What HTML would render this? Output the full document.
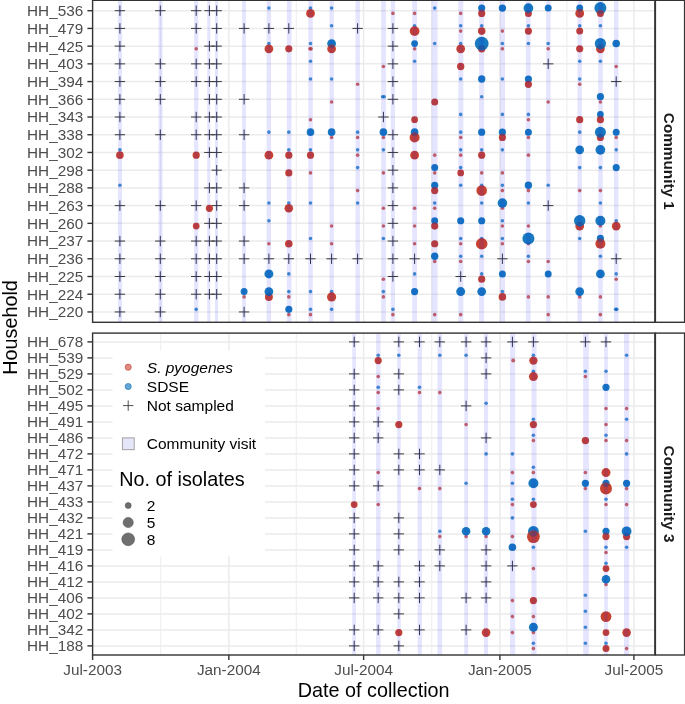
<!DOCTYPE html>
<html><head><meta charset="utf-8"><title>Household sampling</title>
<style>
html,body{margin:0;padding:0;background:#fff;}
body{width:685px;height:704px;overflow:hidden;}
svg{display:block;will-change:transform;}
text{font-family:"Liberation Sans",sans-serif;}
.ax{font-size:15.3px;fill:#4D4D4D;}
.lg{font-size:15.5px;fill:#000;}
.tt{font-size:19.8px;fill:#000;}
.st{font-size:15.3px;font-weight:bold;fill:#1A1A1A;}
</style></head>
<body>
<svg width="685" height="704" viewBox="0 0 685 704">
<rect width="685" height="704" fill="#fff"/>
<rect x="92.6" y="0.3" width="562.3" height="322" fill="#fff"/>
<line x1="160.73" y1="0.3" x2="160.73" y2="322.3" stroke="#EBEBEB" stroke-width="0.9"/>
<line x1="296.24" y1="0.3" x2="296.24" y2="322.3" stroke="#EBEBEB" stroke-width="0.9"/>
<line x1="431.75" y1="0.3" x2="431.75" y2="322.3" stroke="#EBEBEB" stroke-width="0.9"/>
<line x1="566.89" y1="0.3" x2="566.89" y2="322.3" stroke="#EBEBEB" stroke-width="0.9"/>
<line x1="228.85" y1="0.3" x2="228.85" y2="322.3" stroke="#EBEBEB" stroke-width="1.5"/>
<line x1="363.62" y1="0.3" x2="363.62" y2="322.3" stroke="#EBEBEB" stroke-width="1.5"/>
<line x1="499.88" y1="0.3" x2="499.88" y2="322.3" stroke="#EBEBEB" stroke-width="1.5"/>
<line x1="633.91" y1="0.3" x2="633.91" y2="322.3" stroke="#EBEBEB" stroke-width="1.5"/>
<line x1="92.6" y1="10.7" x2="654.9" y2="10.7" stroke="#EBEBEB" stroke-width="1.5"/>
<line x1="92.6" y1="28.42" x2="654.9" y2="28.42" stroke="#EBEBEB" stroke-width="1.5"/>
<line x1="92.6" y1="46.14" x2="654.9" y2="46.14" stroke="#EBEBEB" stroke-width="1.5"/>
<line x1="92.6" y1="63.86" x2="654.9" y2="63.86" stroke="#EBEBEB" stroke-width="1.5"/>
<line x1="92.6" y1="81.58" x2="654.9" y2="81.58" stroke="#EBEBEB" stroke-width="1.5"/>
<line x1="92.6" y1="99.3" x2="654.9" y2="99.3" stroke="#EBEBEB" stroke-width="1.5"/>
<line x1="92.6" y1="117.02" x2="654.9" y2="117.02" stroke="#EBEBEB" stroke-width="1.5"/>
<line x1="92.6" y1="134.74" x2="654.9" y2="134.74" stroke="#EBEBEB" stroke-width="1.5"/>
<line x1="92.6" y1="152.46" x2="654.9" y2="152.46" stroke="#EBEBEB" stroke-width="1.5"/>
<line x1="92.6" y1="170.18" x2="654.9" y2="170.18" stroke="#EBEBEB" stroke-width="1.5"/>
<line x1="92.6" y1="187.9" x2="654.9" y2="187.9" stroke="#EBEBEB" stroke-width="1.5"/>
<line x1="92.6" y1="205.62" x2="654.9" y2="205.62" stroke="#EBEBEB" stroke-width="1.5"/>
<line x1="92.6" y1="223.34" x2="654.9" y2="223.34" stroke="#EBEBEB" stroke-width="1.5"/>
<line x1="92.6" y1="241.06" x2="654.9" y2="241.06" stroke="#EBEBEB" stroke-width="1.5"/>
<line x1="92.6" y1="258.78" x2="654.9" y2="258.78" stroke="#EBEBEB" stroke-width="1.5"/>
<line x1="92.6" y1="276.5" x2="654.9" y2="276.5" stroke="#EBEBEB" stroke-width="1.5"/>
<line x1="92.6" y1="294.22" x2="654.9" y2="294.22" stroke="#EBEBEB" stroke-width="1.5"/>
<line x1="92.6" y1="311.94" x2="654.9" y2="311.94" stroke="#EBEBEB" stroke-width="1.5"/>
<path d="M114.7 10.7h10.4M119.9 5.5v10.4M114.7 28.42h10.4M119.9 23.22v10.4M114.7 46.14h10.4M119.9 40.94v10.4M114.7 63.86h10.4M119.9 58.66v10.4M114.7 81.58h10.4M119.9 76.38v10.4M114.7 99.3h10.4M119.9 94.1v10.4M114.7 117.02h10.4M119.9 111.82v10.4M114.7 134.74h10.4M119.9 129.54v10.4M114.7 205.62h10.4M119.9 200.42v10.4M114.7 241.06h10.4M119.9 235.86v10.4M114.7 258.78h10.4M119.9 253.58v10.4M114.7 276.5h10.4M119.9 271.3v10.4M114.7 294.22h10.4M119.9 289.02v10.4M114.7 311.94h10.4M119.9 306.74v10.4M155.1 10.7h10.4M160.3 5.5v10.4M155.1 63.86h10.4M160.3 58.66v10.4M155.1 81.58h10.4M160.3 76.38v10.4M155.1 99.3h10.4M160.3 94.1v10.4M155.1 134.74h10.4M160.3 129.54v10.4M155.1 205.62h10.4M160.3 200.42v10.4M155.1 241.06h10.4M160.3 235.86v10.4M155.1 258.78h10.4M160.3 253.58v10.4M155.1 276.5h10.4M160.3 271.3v10.4M155.1 294.22h10.4M160.3 289.02v10.4M155.1 311.94h10.4M160.3 306.74v10.4M191 10.7h10.4M196.2 5.5v10.4M191 28.42h10.4M196.2 23.22v10.4M191 63.86h10.4M196.2 58.66v10.4M191 81.58h10.4M196.2 76.38v10.4M191 117.02h10.4M196.2 111.82v10.4M191 134.74h10.4M196.2 129.54v10.4M191 205.62h10.4M196.2 200.42v10.4M191 241.06h10.4M196.2 235.86v10.4M191 258.78h10.4M196.2 253.58v10.4M191 276.5h10.4M196.2 271.3v10.4M191 294.22h10.4M196.2 289.02v10.4M204.2 10.7h10.4M209.4 5.5v10.4M204.2 46.14h10.4M209.4 40.94v10.4M204.2 63.86h10.4M209.4 58.66v10.4M204.2 81.58h10.4M209.4 76.38v10.4M204.2 99.3h10.4M209.4 94.1v10.4M204.2 117.02h10.4M209.4 111.82v10.4M204.2 134.74h10.4M209.4 129.54v10.4M204.2 152.46h10.4M209.4 147.26v10.4M204.2 187.9h10.4M209.4 182.7v10.4M204.2 223.34h10.4M209.4 218.14v10.4M204.2 241.06h10.4M209.4 235.86v10.4M204.2 258.78h10.4M209.4 253.58v10.4M204.2 276.5h10.4M209.4 271.3v10.4M204.2 294.22h10.4M209.4 289.02v10.4M211.5 10.7h10.4M216.7 5.5v10.4M211.5 28.42h10.4M216.7 23.22v10.4M211.5 46.14h10.4M216.7 40.94v10.4M211.5 63.86h10.4M216.7 58.66v10.4M211.5 81.58h10.4M216.7 76.38v10.4M211.5 99.3h10.4M216.7 94.1v10.4M211.5 117.02h10.4M216.7 111.82v10.4M211.5 134.74h10.4M216.7 129.54v10.4M211.5 152.46h10.4M216.7 147.26v10.4M211.5 170.18h10.4M216.7 164.98v10.4M211.5 187.9h10.4M216.7 182.7v10.4M211.5 205.62h10.4M216.7 200.42v10.4M211.5 223.34h10.4M216.7 218.14v10.4M211.5 241.06h10.4M216.7 235.86v10.4M211.5 258.78h10.4M216.7 253.58v10.4M211.5 276.5h10.4M216.7 271.3v10.4M211.5 294.22h10.4M216.7 289.02v10.4M238.9 28.42h10.4M244.1 23.22v10.4M238.9 99.3h10.4M244.1 94.1v10.4M238.9 134.74h10.4M244.1 129.54v10.4M238.9 187.9h10.4M244.1 182.7v10.4M238.9 205.62h10.4M244.1 200.42v10.4M238.9 241.06h10.4M244.1 235.86v10.4M238.9 258.78h10.4M244.1 253.58v10.4M238.9 311.94h10.4M244.1 306.74v10.4M263.7 28.42h10.4M268.9 23.22v10.4M263.7 258.78h10.4M268.9 253.58v10.4M283.6 28.42h10.4M288.8 23.22v10.4M283.6 258.78h10.4M288.8 253.58v10.4M305.3 258.78h10.4M310.5 253.58v10.4M326.4 258.78h10.4M331.6 253.58v10.4M352.4 28.42h10.4M357.6 23.22v10.4M352.4 258.78h10.4M357.6 253.58v10.4M378.2 117.02h10.4M383.4 111.82v10.4M387.7 28.42h10.4M392.9 23.22v10.4M387.7 46.14h10.4M392.9 40.94v10.4M387.7 63.86h10.4M392.9 58.66v10.4M387.7 81.58h10.4M392.9 76.38v10.4M387.7 99.3h10.4M392.9 94.1v10.4M387.7 134.74h10.4M392.9 129.54v10.4M387.7 152.46h10.4M392.9 147.26v10.4M387.7 170.18h10.4M392.9 164.98v10.4M387.7 187.9h10.4M392.9 182.7v10.4M387.7 205.62h10.4M392.9 200.42v10.4M387.7 223.34h10.4M392.9 218.14v10.4M387.7 241.06h10.4M392.9 235.86v10.4M387.7 258.78h10.4M392.9 253.58v10.4M387.7 276.5h10.4M392.9 271.3v10.4M409.4 258.78h10.4M414.6 253.58v10.4M455.5 276.5h10.4M460.7 271.3v10.4M497.2 258.78h10.4M502.4 253.58v10.4M543 63.86h10.4M548.2 58.66v10.4M543 205.62h10.4M548.2 200.42v10.4M611 81.58h10.4M616.2 76.38v10.4M611 258.78h10.4M616.2 253.58v10.4" stroke="#3A3A3A" stroke-width="1.0" fill="none"/>
<circle cx="119.9" cy="149.86" r="1.8" fill="#006BB8" fill-opacity="0.72"/>
<circle cx="119.9" cy="155.16" r="3.8" fill="#C22E1C" fill-opacity="0.9"/>
<circle cx="119.9" cy="185.3" r="1.8" fill="#006BB8" fill-opacity="0.72"/>
<circle cx="196.2" cy="48.84" r="1.8" fill="#C22E1C" fill-opacity="0.72"/>
<circle cx="196.2" cy="155.16" r="3.6" fill="#C22E1C" fill-opacity="0.9"/>
<circle cx="196.2" cy="226.04" r="3.4" fill="#C22E1C" fill-opacity="0.9"/>
<circle cx="196.2" cy="309.34" r="1.8" fill="#006BB8" fill-opacity="0.72"/>
<circle cx="209.4" cy="208.32" r="3.6" fill="#C22E1C" fill-opacity="0.9"/>
<circle cx="244.1" cy="296.92" r="1.8" fill="#C22E1C" fill-opacity="0.72"/>
<circle cx="244.1" cy="291.62" r="3.5" fill="#006BB8" fill-opacity="0.9"/>
<circle cx="268.9" cy="8.1" r="1.8" fill="#006BB8" fill-opacity="0.72"/>
<circle cx="268.9" cy="43.54" r="1.8" fill="#006BB8" fill-opacity="0.72"/>
<circle cx="268.9" cy="48.84" r="4.4" fill="#C22E1C" fill-opacity="0.9"/>
<circle cx="268.9" cy="132.14" r="1.8" fill="#006BB8" fill-opacity="0.72"/>
<circle cx="268.9" cy="155.16" r="4.4" fill="#C22E1C" fill-opacity="0.9"/>
<circle cx="268.9" cy="203.02" r="1.8" fill="#006BB8" fill-opacity="0.72"/>
<circle cx="268.9" cy="220.74" r="1.8" fill="#006BB8" fill-opacity="0.72"/>
<circle cx="268.9" cy="243.76" r="1.8" fill="#C22E1C" fill-opacity="0.72"/>
<circle cx="268.9" cy="273.9" r="4.5" fill="#006BB8" fill-opacity="0.9"/>
<circle cx="268.9" cy="296.92" r="4" fill="#C22E1C" fill-opacity="0.9"/>
<circle cx="268.9" cy="291.62" r="4.4" fill="#006BB8" fill-opacity="0.9"/>
<clipPath id="k1"><circle cx="268.9" cy="291.62" r="4.4"/></clipPath>
<circle cx="268.9" cy="296.92" r="4" fill="#C22E1C" fill-opacity="0.1" clip-path="url(#k1)"/>
<circle cx="288.8" cy="48.84" r="3.6" fill="#C22E1C" fill-opacity="0.9"/>
<circle cx="288.8" cy="132.14" r="1.8" fill="#006BB8" fill-opacity="0.72"/>
<circle cx="288.8" cy="149.86" r="1.8" fill="#006BB8" fill-opacity="0.72"/>
<circle cx="288.8" cy="155.16" r="3.6" fill="#C22E1C" fill-opacity="0.9"/>
<circle cx="288.8" cy="172.88" r="3.6" fill="#C22E1C" fill-opacity="0.9"/>
<circle cx="288.8" cy="203.02" r="1.8" fill="#006BB8" fill-opacity="0.72"/>
<circle cx="288.8" cy="208.32" r="4.3" fill="#C22E1C" fill-opacity="0.9"/>
<circle cx="288.8" cy="243.76" r="3.8" fill="#C22E1C" fill-opacity="0.9"/>
<circle cx="288.8" cy="273.9" r="1.8" fill="#006BB8" fill-opacity="0.72"/>
<circle cx="288.8" cy="291.62" r="1.8" fill="#006BB8" fill-opacity="0.72"/>
<circle cx="288.8" cy="296.92" r="1.8" fill="#C22E1C" fill-opacity="0.72"/>
<circle cx="288.8" cy="314.64" r="1.8" fill="#C22E1C" fill-opacity="0.72"/>
<circle cx="288.8" cy="309.34" r="3.6" fill="#006BB8" fill-opacity="0.9"/>
<circle cx="310.5" cy="8.1" r="1.8" fill="#006BB8" fill-opacity="0.72"/>
<circle cx="310.5" cy="13.4" r="4.4" fill="#C22E1C" fill-opacity="0.9"/>
<circle cx="310.5" cy="43.54" r="1.8" fill="#006BB8" fill-opacity="0.72"/>
<circle cx="309.9" cy="48.84" r="1.8" fill="#C22E1C" fill-opacity="0.72"/>
<circle cx="311.1" cy="48.84" r="1.8" fill="#C22E1C" fill-opacity="0.72"/>
<circle cx="310.5" cy="61.26" r="1.8" fill="#006BB8" fill-opacity="0.72"/>
<circle cx="310.5" cy="78.98" r="1.8" fill="#006BB8" fill-opacity="0.72"/>
<circle cx="310.5" cy="119.72" r="1.8" fill="#C22E1C" fill-opacity="0.72"/>
<circle cx="310.5" cy="132.14" r="3.8" fill="#006BB8" fill-opacity="0.9"/>
<circle cx="310.5" cy="149.86" r="1.8" fill="#006BB8" fill-opacity="0.72"/>
<circle cx="310.5" cy="155.16" r="3.6" fill="#C22E1C" fill-opacity="0.9"/>
<circle cx="310.5" cy="172.88" r="1.8" fill="#C22E1C" fill-opacity="0.72"/>
<circle cx="310.5" cy="203.02" r="1.8" fill="#006BB8" fill-opacity="0.72"/>
<circle cx="310.5" cy="238.46" r="1.8" fill="#006BB8" fill-opacity="0.72"/>
<circle cx="310.5" cy="291.62" r="1.8" fill="#006BB8" fill-opacity="0.72"/>
<circle cx="310.5" cy="309.34" r="1.8" fill="#006BB8" fill-opacity="0.72"/>
<circle cx="310.5" cy="314.64" r="1.8" fill="#C22E1C" fill-opacity="0.72"/>
<circle cx="331.6" cy="8.1" r="1.8" fill="#006BB8" fill-opacity="0.72"/>
<circle cx="331.6" cy="25.82" r="1.8" fill="#006BB8" fill-opacity="0.72"/>
<circle cx="331.6" cy="43.54" r="4.4" fill="#006BB8" fill-opacity="0.9"/>
<circle cx="331.6" cy="48.84" r="4.4" fill="#C22E1C" fill-opacity="0.9"/>
<clipPath id="k2"><circle cx="331.6" cy="48.84" r="4.4"/></clipPath>
<circle cx="331.6" cy="43.54" r="4.4" fill="#006BB8" fill-opacity="0.25" clip-path="url(#k2)"/>
<circle cx="331.6" cy="78.98" r="1.8" fill="#006BB8" fill-opacity="0.72"/>
<circle cx="331.6" cy="102" r="1.8" fill="#C22E1C" fill-opacity="0.72"/>
<circle cx="331.6" cy="137.44" r="1.8" fill="#C22E1C" fill-opacity="0.72"/>
<circle cx="331.6" cy="132.14" r="3.8" fill="#006BB8" fill-opacity="0.9"/>
<circle cx="331.6" cy="226.04" r="1.8" fill="#C22E1C" fill-opacity="0.72"/>
<circle cx="331.6" cy="243.76" r="1.8" fill="#C22E1C" fill-opacity="0.72"/>
<circle cx="331.6" cy="291.62" r="1.8" fill="#006BB8" fill-opacity="0.72"/>
<circle cx="331.6" cy="296.92" r="4.6" fill="#C22E1C" fill-opacity="0.9"/>
<circle cx="331.6" cy="309.34" r="1.8" fill="#006BB8" fill-opacity="0.72"/>
<circle cx="357.6" cy="84.28" r="1.8" fill="#C22E1C" fill-opacity="0.72"/>
<circle cx="357.6" cy="132.14" r="1.8" fill="#006BB8" fill-opacity="0.72"/>
<circle cx="357.6" cy="137.44" r="1.8" fill="#C22E1C" fill-opacity="0.72"/>
<circle cx="357.6" cy="149.86" r="1.8" fill="#006BB8" fill-opacity="0.72"/>
<circle cx="357.6" cy="155.16" r="1.8" fill="#C22E1C" fill-opacity="0.72"/>
<circle cx="357.6" cy="167.58" r="1.8" fill="#006BB8" fill-opacity="0.72"/>
<circle cx="357.6" cy="190.6" r="1.8" fill="#C22E1C" fill-opacity="0.72"/>
<circle cx="357.6" cy="203.02" r="1.8" fill="#006BB8" fill-opacity="0.72"/>
<circle cx="383.4" cy="66.56" r="1.8" fill="#C22E1C" fill-opacity="0.72"/>
<circle cx="382.6" cy="96.8" r="1.8" fill="#006BB8" fill-opacity="0.72"/>
<circle cx="384.2" cy="96.8" r="1.8" fill="#006BB8" fill-opacity="0.72"/>
<circle cx="383.4" cy="137.44" r="1.8" fill="#C22E1C" fill-opacity="0.72"/>
<circle cx="383.4" cy="132.14" r="3.8" fill="#006BB8" fill-opacity="0.9"/>
<circle cx="383.4" cy="149.86" r="1.8" fill="#006BB8" fill-opacity="0.72"/>
<circle cx="383.4" cy="172.88" r="1.8" fill="#C22E1C" fill-opacity="0.72"/>
<circle cx="383.4" cy="208.32" r="1.8" fill="#C22E1C" fill-opacity="0.72"/>
<circle cx="383.4" cy="226.04" r="1.8" fill="#C22E1C" fill-opacity="0.72"/>
<circle cx="383.4" cy="238.46" r="1.8" fill="#006BB8" fill-opacity="0.72"/>
<circle cx="383.4" cy="279.2" r="1.8" fill="#C22E1C" fill-opacity="0.72"/>
<circle cx="383.4" cy="291.62" r="1.8" fill="#006BB8" fill-opacity="0.72"/>
<circle cx="383.4" cy="296.92" r="1.8" fill="#C22E1C" fill-opacity="0.72"/>
<circle cx="392.9" cy="13.4" r="1.8" fill="#C22E1C" fill-opacity="0.72"/>
<circle cx="392.9" cy="309.34" r="1.8" fill="#006BB8" fill-opacity="0.72"/>
<circle cx="392.9" cy="314.64" r="1.8" fill="#C22E1C" fill-opacity="0.72"/>
<circle cx="414.6" cy="13.4" r="1.8" fill="#C22E1C" fill-opacity="0.72"/>
<circle cx="414.6" cy="25.82" r="1.8" fill="#006BB8" fill-opacity="0.72"/>
<circle cx="414.6" cy="31.12" r="4.9" fill="#C22E1C" fill-opacity="0.9"/>
<circle cx="414.6" cy="48.84" r="1.8" fill="#C22E1C" fill-opacity="0.72"/>
<circle cx="414.6" cy="43.54" r="3.4" fill="#006BB8" fill-opacity="0.9"/>
<circle cx="414.6" cy="61.26" r="1.8" fill="#006BB8" fill-opacity="0.72"/>
<circle cx="414.6" cy="119.72" r="3.4" fill="#C22E1C" fill-opacity="0.9"/>
<circle cx="414.6" cy="132.14" r="3.8" fill="#006BB8" fill-opacity="0.9"/>
<circle cx="414.6" cy="137.44" r="5" fill="#C22E1C" fill-opacity="0.9"/>
<clipPath id="k3"><circle cx="414.6" cy="137.44" r="5"/></clipPath>
<circle cx="414.6" cy="132.14" r="3.8" fill="#006BB8" fill-opacity="0.25" clip-path="url(#k3)"/>
<circle cx="414.6" cy="155.16" r="4.4" fill="#C22E1C" fill-opacity="0.9"/>
<circle cx="414.6" cy="208.32" r="1.8" fill="#C22E1C" fill-opacity="0.72"/>
<circle cx="414.6" cy="226.04" r="1.8" fill="#C22E1C" fill-opacity="0.72"/>
<circle cx="414.6" cy="243.76" r="1.8" fill="#C22E1C" fill-opacity="0.72"/>
<circle cx="414.6" cy="273.9" r="1.8" fill="#006BB8" fill-opacity="0.72"/>
<circle cx="414.6" cy="291.62" r="3.6" fill="#006BB8" fill-opacity="0.9"/>
<circle cx="434.7" cy="8.1" r="1.8" fill="#006BB8" fill-opacity="0.72"/>
<circle cx="434.7" cy="43.54" r="1.8" fill="#006BB8" fill-opacity="0.72"/>
<circle cx="434.7" cy="102" r="3.5" fill="#C22E1C" fill-opacity="0.9"/>
<circle cx="434.7" cy="155.16" r="1.8" fill="#C22E1C" fill-opacity="0.72"/>
<circle cx="434.7" cy="172.88" r="1.8" fill="#C22E1C" fill-opacity="0.72"/>
<circle cx="434.7" cy="167.58" r="3.5" fill="#006BB8" fill-opacity="0.9"/>
<circle cx="434.7" cy="185.3" r="3.6" fill="#006BB8" fill-opacity="0.9"/>
<circle cx="434.7" cy="190.6" r="3.6" fill="#C22E1C" fill-opacity="0.9"/>
<clipPath id="k4"><circle cx="434.7" cy="190.6" r="3.6"/></clipPath>
<circle cx="434.7" cy="185.3" r="3.6" fill="#006BB8" fill-opacity="0.25" clip-path="url(#k4)"/>
<circle cx="434.7" cy="203.02" r="1.8" fill="#006BB8" fill-opacity="0.72"/>
<circle cx="434.7" cy="208.32" r="1.8" fill="#C22E1C" fill-opacity="0.72"/>
<circle cx="434.7" cy="220.74" r="3.5" fill="#006BB8" fill-opacity="0.9"/>
<circle cx="434.7" cy="226.04" r="3.6" fill="#C22E1C" fill-opacity="0.9"/>
<clipPath id="k5"><circle cx="434.7" cy="226.04" r="3.6"/></clipPath>
<circle cx="434.7" cy="220.74" r="3.5" fill="#006BB8" fill-opacity="0.25" clip-path="url(#k5)"/>
<circle cx="434.7" cy="243.76" r="3.6" fill="#C22E1C" fill-opacity="0.9"/>
<circle cx="434.7" cy="261.48" r="1.8" fill="#C22E1C" fill-opacity="0.72"/>
<circle cx="434.7" cy="256.18" r="3.7" fill="#006BB8" fill-opacity="0.9"/>
<circle cx="434.7" cy="314.64" r="1.8" fill="#C22E1C" fill-opacity="0.72"/>
<circle cx="460.7" cy="13.4" r="1.8" fill="#C22E1C" fill-opacity="0.72"/>
<circle cx="460.7" cy="25.82" r="1.8" fill="#006BB8" fill-opacity="0.72"/>
<circle cx="460.7" cy="31.12" r="1.8" fill="#C22E1C" fill-opacity="0.72"/>
<circle cx="460.7" cy="43.54" r="1.8" fill="#006BB8" fill-opacity="0.72"/>
<circle cx="460.7" cy="48.84" r="4.4" fill="#C22E1C" fill-opacity="0.9"/>
<circle cx="460.7" cy="66.56" r="3.7" fill="#C22E1C" fill-opacity="0.9"/>
<circle cx="460.7" cy="78.98" r="1.8" fill="#006BB8" fill-opacity="0.72"/>
<circle cx="460.7" cy="114.42" r="1.8" fill="#006BB8" fill-opacity="0.72"/>
<circle cx="460.7" cy="132.14" r="1.8" fill="#006BB8" fill-opacity="0.72"/>
<circle cx="460.7" cy="137.44" r="1.8" fill="#C22E1C" fill-opacity="0.72"/>
<circle cx="460.7" cy="149.86" r="1.8" fill="#006BB8" fill-opacity="0.72"/>
<circle cx="460.7" cy="155.16" r="1.8" fill="#C22E1C" fill-opacity="0.72"/>
<circle cx="460.7" cy="167.58" r="1.8" fill="#006BB8" fill-opacity="0.72"/>
<circle cx="460.7" cy="172.88" r="3.4" fill="#C22E1C" fill-opacity="0.9"/>
<circle cx="460.7" cy="185.3" r="1.8" fill="#006BB8" fill-opacity="0.72"/>
<circle cx="460.7" cy="220.74" r="3.6" fill="#006BB8" fill-opacity="0.9"/>
<circle cx="460.7" cy="238.46" r="1.8" fill="#006BB8" fill-opacity="0.72"/>
<circle cx="460.7" cy="243.76" r="1.8" fill="#C22E1C" fill-opacity="0.72"/>
<circle cx="460.7" cy="256.18" r="1.8" fill="#006BB8" fill-opacity="0.72"/>
<circle cx="460.7" cy="261.48" r="1.8" fill="#C22E1C" fill-opacity="0.72"/>
<circle cx="460.7" cy="291.62" r="4.5" fill="#006BB8" fill-opacity="0.9"/>
<circle cx="460.7" cy="314.64" r="1.8" fill="#C22E1C" fill-opacity="0.72"/>
<circle cx="481.7" cy="8.1" r="3.6" fill="#006BB8" fill-opacity="0.9"/>
<circle cx="481.7" cy="13.4" r="3.6" fill="#C22E1C" fill-opacity="0.9"/>
<clipPath id="k6"><circle cx="481.7" cy="13.4" r="3.6"/></clipPath>
<circle cx="481.7" cy="8.1" r="3.6" fill="#006BB8" fill-opacity="0.25" clip-path="url(#k6)"/>
<circle cx="481.7" cy="25.82" r="1.8" fill="#006BB8" fill-opacity="0.72"/>
<circle cx="481.7" cy="31.12" r="3.8" fill="#C22E1C" fill-opacity="0.9"/>
<circle cx="481.7" cy="48.84" r="3.7" fill="#C22E1C" fill-opacity="0.9"/>
<circle cx="481.7" cy="43.54" r="6.9" fill="#006BB8" fill-opacity="0.9"/>
<clipPath id="k7"><circle cx="481.7" cy="43.54" r="6.9"/></clipPath>
<circle cx="481.7" cy="48.84" r="3.7" fill="#C22E1C" fill-opacity="0.1" clip-path="url(#k7)"/>
<circle cx="481.7" cy="78.98" r="3.7" fill="#006BB8" fill-opacity="0.9"/>
<circle cx="481.7" cy="96.7" r="1.8" fill="#006BB8" fill-opacity="0.72"/>
<circle cx="481.7" cy="132.14" r="3.6" fill="#006BB8" fill-opacity="0.9"/>
<circle cx="481.7" cy="149.86" r="1.8" fill="#006BB8" fill-opacity="0.72"/>
<circle cx="481.7" cy="155.16" r="3.6" fill="#C22E1C" fill-opacity="0.9"/>
<circle cx="481.7" cy="172.88" r="1.8" fill="#C22E1C" fill-opacity="0.72"/>
<circle cx="481.7" cy="185.3" r="1.8" fill="#006BB8" fill-opacity="0.72"/>
<circle cx="481.7" cy="190.6" r="5.3" fill="#C22E1C" fill-opacity="0.9"/>
<circle cx="481.7" cy="203.02" r="1.8" fill="#006BB8" fill-opacity="0.72"/>
<circle cx="481.7" cy="220.74" r="3.6" fill="#006BB8" fill-opacity="0.9"/>
<circle cx="481.7" cy="238.46" r="1.8" fill="#006BB8" fill-opacity="0.72"/>
<circle cx="481.7" cy="243.76" r="5.8" fill="#C22E1C" fill-opacity="0.9"/>
<circle cx="481.7" cy="256.18" r="1.8" fill="#006BB8" fill-opacity="0.72"/>
<circle cx="481.7" cy="273.9" r="1.8" fill="#006BB8" fill-opacity="0.72"/>
<circle cx="481.7" cy="279.2" r="3.6" fill="#C22E1C" fill-opacity="0.9"/>
<circle cx="481.7" cy="291.62" r="4.4" fill="#006BB8" fill-opacity="0.9"/>
<circle cx="502.4" cy="8.1" r="3.7" fill="#006BB8" fill-opacity="0.9"/>
<circle cx="502.4" cy="31.12" r="1.8" fill="#C22E1C" fill-opacity="0.72"/>
<circle cx="502.4" cy="43.54" r="1.8" fill="#006BB8" fill-opacity="0.72"/>
<circle cx="502.4" cy="48.84" r="1.8" fill="#C22E1C" fill-opacity="0.72"/>
<circle cx="502.4" cy="78.98" r="1.8" fill="#006BB8" fill-opacity="0.72"/>
<circle cx="502.4" cy="114.42" r="1.8" fill="#006BB8" fill-opacity="0.72"/>
<circle cx="502.4" cy="132.14" r="3.6" fill="#006BB8" fill-opacity="0.9"/>
<circle cx="502.4" cy="137.44" r="3.6" fill="#C22E1C" fill-opacity="0.9"/>
<clipPath id="k8"><circle cx="502.4" cy="137.44" r="3.6"/></clipPath>
<circle cx="502.4" cy="132.14" r="3.6" fill="#006BB8" fill-opacity="0.25" clip-path="url(#k8)"/>
<circle cx="502.4" cy="149.86" r="1.8" fill="#006BB8" fill-opacity="0.72"/>
<circle cx="502.4" cy="172.88" r="1.8" fill="#C22E1C" fill-opacity="0.72"/>
<circle cx="502.4" cy="185.3" r="1.8" fill="#006BB8" fill-opacity="0.72"/>
<circle cx="502.4" cy="190.6" r="1.8" fill="#C22E1C" fill-opacity="0.72"/>
<circle cx="502.4" cy="208.32" r="1.8" fill="#C22E1C" fill-opacity="0.72"/>
<circle cx="502.4" cy="203.02" r="4.8" fill="#006BB8" fill-opacity="0.9"/>
<circle cx="502.4" cy="220.74" r="1.8" fill="#006BB8" fill-opacity="0.72"/>
<circle cx="502.4" cy="226.04" r="1.8" fill="#C22E1C" fill-opacity="0.72"/>
<circle cx="502.4" cy="238.46" r="1.8" fill="#006BB8" fill-opacity="0.72"/>
<circle cx="502.4" cy="243.76" r="1.8" fill="#C22E1C" fill-opacity="0.72"/>
<circle cx="502.4" cy="273.9" r="3.5" fill="#006BB8" fill-opacity="0.9"/>
<circle cx="502.4" cy="291.62" r="1.8" fill="#006BB8" fill-opacity="0.72"/>
<circle cx="502.4" cy="296.92" r="3.8" fill="#C22E1C" fill-opacity="0.9"/>
<circle cx="528.4" cy="13.4" r="3.5" fill="#C22E1C" fill-opacity="0.9"/>
<circle cx="528.4" cy="8.1" r="4.9" fill="#006BB8" fill-opacity="0.9"/>
<clipPath id="k9"><circle cx="528.4" cy="8.1" r="4.9"/></clipPath>
<circle cx="528.4" cy="13.4" r="3.5" fill="#C22E1C" fill-opacity="0.1" clip-path="url(#k9)"/>
<circle cx="528.4" cy="25.82" r="1.8" fill="#006BB8" fill-opacity="0.72"/>
<circle cx="528.4" cy="31.12" r="3.6" fill="#C22E1C" fill-opacity="0.9"/>
<circle cx="528.4" cy="43.54" r="1.8" fill="#006BB8" fill-opacity="0.72"/>
<circle cx="528.4" cy="78.98" r="3.6" fill="#006BB8" fill-opacity="0.9"/>
<circle cx="528.4" cy="84.28" r="3.6" fill="#C22E1C" fill-opacity="0.9"/>
<clipPath id="k10"><circle cx="528.4" cy="84.28" r="3.6"/></clipPath>
<circle cx="528.4" cy="78.98" r="3.6" fill="#006BB8" fill-opacity="0.25" clip-path="url(#k10)"/>
<circle cx="528.4" cy="114.42" r="1.8" fill="#006BB8" fill-opacity="0.72"/>
<circle cx="528.4" cy="119.72" r="1.8" fill="#C22E1C" fill-opacity="0.72"/>
<circle cx="528.4" cy="137.44" r="1.8" fill="#C22E1C" fill-opacity="0.72"/>
<circle cx="528.4" cy="132.14" r="3.5" fill="#006BB8" fill-opacity="0.9"/>
<circle cx="528.4" cy="155.16" r="1.8" fill="#C22E1C" fill-opacity="0.72"/>
<circle cx="528.4" cy="190.6" r="1.8" fill="#C22E1C" fill-opacity="0.72"/>
<circle cx="528.4" cy="185.3" r="3.7" fill="#006BB8" fill-opacity="0.9"/>
<circle cx="528.4" cy="203.02" r="1.8" fill="#006BB8" fill-opacity="0.72"/>
<circle cx="528.4" cy="226.04" r="1.8" fill="#C22E1C" fill-opacity="0.72"/>
<circle cx="528.4" cy="243.76" r="1.8" fill="#C22E1C" fill-opacity="0.72"/>
<circle cx="528.4" cy="238.46" r="6" fill="#006BB8" fill-opacity="0.9"/>
<circle cx="528.4" cy="256.18" r="1.8" fill="#006BB8" fill-opacity="0.72"/>
<circle cx="528.4" cy="261.48" r="1.8" fill="#C22E1C" fill-opacity="0.72"/>
<circle cx="528.4" cy="296.92" r="1.8" fill="#C22E1C" fill-opacity="0.72"/>
<circle cx="548.2" cy="8.1" r="3.5" fill="#006BB8" fill-opacity="0.9"/>
<circle cx="548.2" cy="43.54" r="1.8" fill="#006BB8" fill-opacity="0.72"/>
<circle cx="548.2" cy="48.84" r="1.8" fill="#C22E1C" fill-opacity="0.72"/>
<circle cx="548.2" cy="102" r="1.8" fill="#C22E1C" fill-opacity="0.72"/>
<circle cx="548.2" cy="185.3" r="1.8" fill="#006BB8" fill-opacity="0.72"/>
<circle cx="548.2" cy="261.48" r="1.8" fill="#C22E1C" fill-opacity="0.72"/>
<circle cx="548.2" cy="273.9" r="3.5" fill="#006BB8" fill-opacity="0.9"/>
<circle cx="548.2" cy="296.92" r="1.8" fill="#C22E1C" fill-opacity="0.72"/>
<circle cx="548.2" cy="314.64" r="1.8" fill="#C22E1C" fill-opacity="0.72"/>
<circle cx="579.7" cy="8.1" r="3.5" fill="#006BB8" fill-opacity="0.9"/>
<circle cx="579.7" cy="13.4" r="4.4" fill="#C22E1C" fill-opacity="0.9"/>
<clipPath id="k11"><circle cx="579.7" cy="13.4" r="4.4"/></clipPath>
<circle cx="579.7" cy="8.1" r="3.5" fill="#006BB8" fill-opacity="0.25" clip-path="url(#k11)"/>
<circle cx="579.7" cy="25.82" r="1.8" fill="#006BB8" fill-opacity="0.72"/>
<circle cx="579.7" cy="31.12" r="3.5" fill="#C22E1C" fill-opacity="0.9"/>
<circle cx="579.7" cy="48.84" r="3.6" fill="#C22E1C" fill-opacity="0.9"/>
<circle cx="579.7" cy="61.26" r="1.8" fill="#006BB8" fill-opacity="0.72"/>
<circle cx="579.7" cy="78.98" r="1.8" fill="#006BB8" fill-opacity="0.72"/>
<circle cx="579.7" cy="84.28" r="1.8" fill="#C22E1C" fill-opacity="0.72"/>
<circle cx="579.7" cy="119.72" r="3.6" fill="#C22E1C" fill-opacity="0.9"/>
<circle cx="579.7" cy="132.14" r="1.8" fill="#006BB8" fill-opacity="0.72"/>
<circle cx="579.7" cy="149.86" r="4.4" fill="#006BB8" fill-opacity="0.9"/>
<circle cx="579.7" cy="167.58" r="1.8" fill="#006BB8" fill-opacity="0.72"/>
<circle cx="579.7" cy="190.6" r="1.8" fill="#C22E1C" fill-opacity="0.72"/>
<circle cx="579.7" cy="226.04" r="4.4" fill="#C22E1C" fill-opacity="0.9"/>
<circle cx="579.7" cy="220.74" r="5.7" fill="#006BB8" fill-opacity="0.9"/>
<clipPath id="k12"><circle cx="579.7" cy="220.74" r="5.7"/></clipPath>
<circle cx="579.7" cy="226.04" r="4.4" fill="#C22E1C" fill-opacity="0.1" clip-path="url(#k12)"/>
<circle cx="579.7" cy="238.46" r="1.8" fill="#006BB8" fill-opacity="0.72"/>
<circle cx="579.7" cy="296.92" r="1.8" fill="#C22E1C" fill-opacity="0.72"/>
<circle cx="579.7" cy="291.62" r="4.4" fill="#006BB8" fill-opacity="0.9"/>
<circle cx="600.4" cy="8.1" r="6" fill="#006BB8" fill-opacity="0.9"/>
<circle cx="600.4" cy="13.4" r="3.5" fill="#C22E1C" fill-opacity="0.9"/>
<clipPath id="k13"><circle cx="600.4" cy="13.4" r="3.5"/></clipPath>
<circle cx="600.4" cy="8.1" r="6" fill="#006BB8" fill-opacity="0.25" clip-path="url(#k13)"/>
<circle cx="600.4" cy="25.82" r="1.8" fill="#006BB8" fill-opacity="0.72"/>
<circle cx="600.4" cy="48.84" r="4.4" fill="#C22E1C" fill-opacity="0.9"/>
<circle cx="600.4" cy="43.54" r="5.6" fill="#006BB8" fill-opacity="0.9"/>
<clipPath id="k14"><circle cx="600.4" cy="43.54" r="5.6"/></clipPath>
<circle cx="600.4" cy="48.84" r="4.4" fill="#C22E1C" fill-opacity="0.1" clip-path="url(#k14)"/>
<circle cx="600.4" cy="61.26" r="1.8" fill="#006BB8" fill-opacity="0.72"/>
<circle cx="600.4" cy="102" r="1.8" fill="#C22E1C" fill-opacity="0.72"/>
<circle cx="600.4" cy="96.7" r="3.6" fill="#006BB8" fill-opacity="0.9"/>
<circle cx="600.4" cy="114.42" r="3.4" fill="#006BB8" fill-opacity="0.9"/>
<circle cx="600.4" cy="119.72" r="3.6" fill="#C22E1C" fill-opacity="0.9"/>
<clipPath id="k15"><circle cx="600.4" cy="119.72" r="3.6"/></clipPath>
<circle cx="600.4" cy="114.42" r="3.4" fill="#006BB8" fill-opacity="0.25" clip-path="url(#k15)"/>
<circle cx="600.4" cy="137.44" r="3.6" fill="#C22E1C" fill-opacity="0.9"/>
<circle cx="600.4" cy="132.14" r="5.5" fill="#006BB8" fill-opacity="0.9"/>
<clipPath id="k16"><circle cx="600.4" cy="132.14" r="5.5"/></clipPath>
<circle cx="600.4" cy="137.44" r="3.6" fill="#C22E1C" fill-opacity="0.1" clip-path="url(#k16)"/>
<circle cx="600.4" cy="149.86" r="4.9" fill="#006BB8" fill-opacity="0.9"/>
<circle cx="600.4" cy="167.58" r="1.8" fill="#006BB8" fill-opacity="0.72"/>
<circle cx="600.4" cy="190.6" r="1.8" fill="#C22E1C" fill-opacity="0.72"/>
<circle cx="600.4" cy="203.02" r="1.8" fill="#006BB8" fill-opacity="0.72"/>
<circle cx="600.4" cy="226.04" r="1.8" fill="#C22E1C" fill-opacity="0.72"/>
<circle cx="600.4" cy="220.74" r="5" fill="#006BB8" fill-opacity="0.9"/>
<circle cx="600.4" cy="238.46" r="3.6" fill="#006BB8" fill-opacity="0.9"/>
<circle cx="600.4" cy="243.76" r="5" fill="#C22E1C" fill-opacity="0.9"/>
<clipPath id="k17"><circle cx="600.4" cy="243.76" r="5"/></clipPath>
<circle cx="600.4" cy="238.46" r="3.6" fill="#006BB8" fill-opacity="0.25" clip-path="url(#k17)"/>
<circle cx="600.4" cy="256.18" r="1.8" fill="#006BB8" fill-opacity="0.72"/>
<circle cx="600.4" cy="273.9" r="4.4" fill="#006BB8" fill-opacity="0.9"/>
<circle cx="600.4" cy="296.92" r="1.8" fill="#C22E1C" fill-opacity="0.72"/>
<circle cx="600.4" cy="314.64" r="1.8" fill="#C22E1C" fill-opacity="0.72"/>
<circle cx="616.2" cy="43.54" r="3.8" fill="#006BB8" fill-opacity="0.9"/>
<circle cx="616.2" cy="66.56" r="1.8" fill="#C22E1C" fill-opacity="0.72"/>
<circle cx="616.2" cy="137.44" r="1.8" fill="#C22E1C" fill-opacity="0.72"/>
<circle cx="616.2" cy="132.14" r="3.5" fill="#006BB8" fill-opacity="0.9"/>
<circle cx="616.2" cy="149.86" r="1.8" fill="#006BB8" fill-opacity="0.72"/>
<circle cx="616.2" cy="167.58" r="3.6" fill="#006BB8" fill-opacity="0.9"/>
<circle cx="616.2" cy="220.74" r="1.8" fill="#006BB8" fill-opacity="0.72"/>
<circle cx="616.2" cy="226.04" r="4.4" fill="#C22E1C" fill-opacity="0.9"/>
<circle cx="616.2" cy="273.9" r="1.8" fill="#006BB8" fill-opacity="0.72"/>
<circle cx="616.2" cy="279.2" r="1.8" fill="#C22E1C" fill-opacity="0.72"/>
<circle cx="615.6" cy="309.34" r="1.8" fill="#006BB8" fill-opacity="0.72"/>
<circle cx="616.8" cy="309.34" r="1.8" fill="#006BB8" fill-opacity="0.72"/>
<rect x="117.85" y="0.3" width="4.2" height="322" fill="#00F" fill-opacity="0.1"/>
<rect x="158.5" y="0.3" width="4" height="322" fill="#00F" fill-opacity="0.1"/>
<rect x="194.05" y="0.3" width="4.3" height="322" fill="#00F" fill-opacity="0.1"/>
<rect x="207.25" y="0.3" width="3.1" height="322" fill="#00F" fill-opacity="0.1"/>
<rect x="215" y="0.3" width="3" height="322" fill="#00F" fill-opacity="0.1"/>
<rect x="242.05" y="0.3" width="3.9" height="322" fill="#00F" fill-opacity="0.1"/>
<rect x="266.55" y="0.3" width="4.5" height="322" fill="#00F" fill-opacity="0.1"/>
<rect x="286.8" y="0.3" width="4.8" height="322" fill="#00F" fill-opacity="0.1"/>
<rect x="308.3" y="0.3" width="4.5" height="322" fill="#00F" fill-opacity="0.1"/>
<rect x="329.45" y="0.3" width="4.5" height="322" fill="#00F" fill-opacity="0.1"/>
<rect x="355.45" y="0.3" width="4.5" height="322" fill="#00F" fill-opacity="0.1"/>
<rect x="381.05" y="0.3" width="4.9" height="322" fill="#00F" fill-opacity="0.1"/>
<rect x="390.75" y="0.3" width="4.3" height="322" fill="#00F" fill-opacity="0.1"/>
<rect x="412.2" y="0.3" width="4.8" height="322" fill="#00F" fill-opacity="0.1"/>
<rect x="431.4" y="0.3" width="6.2" height="322" fill="#00F" fill-opacity="0.1"/>
<rect x="458.25" y="0.3" width="5.1" height="322" fill="#00F" fill-opacity="0.1"/>
<rect x="479.05" y="0.3" width="5.1" height="322" fill="#00F" fill-opacity="0.1"/>
<rect x="499.95" y="0.3" width="5.1" height="322" fill="#00F" fill-opacity="0.1"/>
<rect x="525.8" y="0.3" width="4.8" height="322" fill="#00F" fill-opacity="0.1"/>
<rect x="546.15" y="0.3" width="4.5" height="322" fill="#00F" fill-opacity="0.1"/>
<rect x="577.45" y="0.3" width="4.5" height="322" fill="#00F" fill-opacity="0.1"/>
<rect x="598.2" y="0.3" width="4.6" height="322" fill="#00F" fill-opacity="0.1"/>
<rect x="613.95" y="0.3" width="4.5" height="322" fill="#00F" fill-opacity="0.1"/>
<line x1="87.4" y1="10.7" x2="92.6" y2="10.7" stroke="#333" stroke-width="1.4"/>
<text x="83.2" y="16.1" class="ax" text-anchor="end">HH_536</text>
<line x1="87.4" y1="28.42" x2="92.6" y2="28.42" stroke="#333" stroke-width="1.4"/>
<text x="83.2" y="33.82" class="ax" text-anchor="end">HH_479</text>
<line x1="87.4" y1="46.14" x2="92.6" y2="46.14" stroke="#333" stroke-width="1.4"/>
<text x="83.2" y="51.54" class="ax" text-anchor="end">HH_425</text>
<line x1="87.4" y1="63.86" x2="92.6" y2="63.86" stroke="#333" stroke-width="1.4"/>
<text x="83.2" y="69.26" class="ax" text-anchor="end">HH_403</text>
<line x1="87.4" y1="81.58" x2="92.6" y2="81.58" stroke="#333" stroke-width="1.4"/>
<text x="83.2" y="86.98" class="ax" text-anchor="end">HH_394</text>
<line x1="87.4" y1="99.3" x2="92.6" y2="99.3" stroke="#333" stroke-width="1.4"/>
<text x="83.2" y="104.7" class="ax" text-anchor="end">HH_366</text>
<line x1="87.4" y1="117.02" x2="92.6" y2="117.02" stroke="#333" stroke-width="1.4"/>
<text x="83.2" y="122.42" class="ax" text-anchor="end">HH_343</text>
<line x1="87.4" y1="134.74" x2="92.6" y2="134.74" stroke="#333" stroke-width="1.4"/>
<text x="83.2" y="140.14" class="ax" text-anchor="end">HH_338</text>
<line x1="87.4" y1="152.46" x2="92.6" y2="152.46" stroke="#333" stroke-width="1.4"/>
<text x="83.2" y="157.86" class="ax" text-anchor="end">HH_302</text>
<line x1="87.4" y1="170.18" x2="92.6" y2="170.18" stroke="#333" stroke-width="1.4"/>
<text x="83.2" y="175.58" class="ax" text-anchor="end">HH_298</text>
<line x1="87.4" y1="187.9" x2="92.6" y2="187.9" stroke="#333" stroke-width="1.4"/>
<text x="83.2" y="193.3" class="ax" text-anchor="end">HH_288</text>
<line x1="87.4" y1="205.62" x2="92.6" y2="205.62" stroke="#333" stroke-width="1.4"/>
<text x="83.2" y="211.02" class="ax" text-anchor="end">HH_263</text>
<line x1="87.4" y1="223.34" x2="92.6" y2="223.34" stroke="#333" stroke-width="1.4"/>
<text x="83.2" y="228.74" class="ax" text-anchor="end">HH_260</text>
<line x1="87.4" y1="241.06" x2="92.6" y2="241.06" stroke="#333" stroke-width="1.4"/>
<text x="83.2" y="246.46" class="ax" text-anchor="end">HH_237</text>
<line x1="87.4" y1="258.78" x2="92.6" y2="258.78" stroke="#333" stroke-width="1.4"/>
<text x="83.2" y="264.18" class="ax" text-anchor="end">HH_236</text>
<line x1="87.4" y1="276.5" x2="92.6" y2="276.5" stroke="#333" stroke-width="1.4"/>
<text x="83.2" y="281.9" class="ax" text-anchor="end">HH_225</text>
<line x1="87.4" y1="294.22" x2="92.6" y2="294.22" stroke="#333" stroke-width="1.4"/>
<text x="83.2" y="299.62" class="ax" text-anchor="end">HH_224</text>
<line x1="87.4" y1="311.94" x2="92.6" y2="311.94" stroke="#333" stroke-width="1.4"/>
<text x="83.2" y="317.34" class="ax" text-anchor="end">HH_220</text>
<rect x="92.6" y="0.3" width="562.3" height="322" fill="none" stroke="#333" stroke-width="1.4"/>
<rect x="655.4" y="0.3" width="29.2" height="322" fill="#fff" stroke="#333" stroke-width="1.4"/>
<rect x="92.6" y="333.1" width="562.3" height="321.9" fill="#fff"/>
<line x1="160.73" y1="333.1" x2="160.73" y2="655" stroke="#EBEBEB" stroke-width="0.9"/>
<line x1="296.24" y1="333.1" x2="296.24" y2="655" stroke="#EBEBEB" stroke-width="0.9"/>
<line x1="431.75" y1="333.1" x2="431.75" y2="655" stroke="#EBEBEB" stroke-width="0.9"/>
<line x1="566.89" y1="333.1" x2="566.89" y2="655" stroke="#EBEBEB" stroke-width="0.9"/>
<line x1="228.85" y1="333.1" x2="228.85" y2="655" stroke="#EBEBEB" stroke-width="1.5"/>
<line x1="363.62" y1="333.1" x2="363.62" y2="655" stroke="#EBEBEB" stroke-width="1.5"/>
<line x1="499.88" y1="333.1" x2="499.88" y2="655" stroke="#EBEBEB" stroke-width="1.5"/>
<line x1="633.91" y1="333.1" x2="633.91" y2="655" stroke="#EBEBEB" stroke-width="1.5"/>
<line x1="92.6" y1="341.9" x2="654.9" y2="341.9" stroke="#EBEBEB" stroke-width="1.5"/>
<line x1="92.6" y1="357.9" x2="654.9" y2="357.9" stroke="#EBEBEB" stroke-width="1.5"/>
<line x1="92.6" y1="373.9" x2="654.9" y2="373.9" stroke="#EBEBEB" stroke-width="1.5"/>
<line x1="92.6" y1="389.9" x2="654.9" y2="389.9" stroke="#EBEBEB" stroke-width="1.5"/>
<line x1="92.6" y1="405.9" x2="654.9" y2="405.9" stroke="#EBEBEB" stroke-width="1.5"/>
<line x1="92.6" y1="421.9" x2="654.9" y2="421.9" stroke="#EBEBEB" stroke-width="1.5"/>
<line x1="92.6" y1="437.9" x2="654.9" y2="437.9" stroke="#EBEBEB" stroke-width="1.5"/>
<line x1="92.6" y1="453.9" x2="654.9" y2="453.9" stroke="#EBEBEB" stroke-width="1.5"/>
<line x1="92.6" y1="469.9" x2="654.9" y2="469.9" stroke="#EBEBEB" stroke-width="1.5"/>
<line x1="92.6" y1="485.9" x2="654.9" y2="485.9" stroke="#EBEBEB" stroke-width="1.5"/>
<line x1="92.6" y1="501.9" x2="654.9" y2="501.9" stroke="#EBEBEB" stroke-width="1.5"/>
<line x1="92.6" y1="517.9" x2="654.9" y2="517.9" stroke="#EBEBEB" stroke-width="1.5"/>
<line x1="92.6" y1="533.9" x2="654.9" y2="533.9" stroke="#EBEBEB" stroke-width="1.5"/>
<line x1="92.6" y1="549.9" x2="654.9" y2="549.9" stroke="#EBEBEB" stroke-width="1.5"/>
<line x1="92.6" y1="565.9" x2="654.9" y2="565.9" stroke="#EBEBEB" stroke-width="1.5"/>
<line x1="92.6" y1="581.9" x2="654.9" y2="581.9" stroke="#EBEBEB" stroke-width="1.5"/>
<line x1="92.6" y1="597.9" x2="654.9" y2="597.9" stroke="#EBEBEB" stroke-width="1.5"/>
<line x1="92.6" y1="613.9" x2="654.9" y2="613.9" stroke="#EBEBEB" stroke-width="1.5"/>
<line x1="92.6" y1="629.9" x2="654.9" y2="629.9" stroke="#EBEBEB" stroke-width="1.5"/>
<line x1="92.6" y1="645.9" x2="654.9" y2="645.9" stroke="#EBEBEB" stroke-width="1.5"/>
<path d="M349 341.9h10.4M354.2 336.7v10.4M349 373.9h10.4M354.2 368.7v10.4M349 389.9h10.4M354.2 384.7v10.4M349 405.9h10.4M354.2 400.7v10.4M349 421.9h10.4M354.2 416.7v10.4M349 437.9h10.4M354.2 432.7v10.4M349 453.9h10.4M354.2 448.7v10.4M349 469.9h10.4M354.2 464.7v10.4M349 485.9h10.4M354.2 480.7v10.4M349 517.9h10.4M354.2 512.7v10.4M349 533.9h10.4M354.2 528.7v10.4M349 549.9h10.4M354.2 544.7v10.4M349 565.9h10.4M354.2 560.7v10.4M349 581.9h10.4M354.2 576.7v10.4M349 597.9h10.4M354.2 592.7v10.4M349 629.9h10.4M354.2 624.7v10.4M349 645.9h10.4M354.2 640.7v10.4M373 421.9h10.4M378.2 416.7v10.4M373 437.9h10.4M378.2 432.7v10.4M373 485.9h10.4M378.2 480.7v10.4M373 565.9h10.4M378.2 560.7v10.4M373 581.9h10.4M378.2 576.7v10.4M373 597.9h10.4M378.2 592.7v10.4M373 629.9h10.4M378.2 624.7v10.4M393.6 341.9h10.4M398.8 336.7v10.4M393.6 373.9h10.4M398.8 368.7v10.4M393.6 389.9h10.4M398.8 384.7v10.4M393.6 453.9h10.4M398.8 448.7v10.4M393.6 469.9h10.4M398.8 464.7v10.4M393.6 517.9h10.4M398.8 512.7v10.4M393.6 533.9h10.4M398.8 528.7v10.4M393.6 549.9h10.4M398.8 544.7v10.4M393.6 581.9h10.4M398.8 576.7v10.4M393.6 597.9h10.4M398.8 592.7v10.4M393.6 613.9h10.4M398.8 608.7v10.4M393.6 645.9h10.4M398.8 640.7v10.4M414.3 341.9h10.4M419.5 336.7v10.4M414.3 453.9h10.4M419.5 448.7v10.4M414.3 469.9h10.4M419.5 464.7v10.4M414.3 565.9h10.4M419.5 560.7v10.4M414.3 581.9h10.4M419.5 576.7v10.4M414.3 597.9h10.4M419.5 592.7v10.4M414.3 629.9h10.4M419.5 624.7v10.4M434.6 341.9h10.4M439.8 336.7v10.4M434.6 469.9h10.4M439.8 464.7v10.4M434.6 549.9h10.4M439.8 544.7v10.4M434.6 565.9h10.4M439.8 560.7v10.4M460.9 341.9h10.4M466.1 336.7v10.4M460.9 405.9h10.4M466.1 400.7v10.4M460.9 597.9h10.4M466.1 592.7v10.4M460.9 629.9h10.4M466.1 624.7v10.4M480.9 341.9h10.4M486.1 336.7v10.4M480.9 357.9h10.4M486.1 352.7v10.4M480.9 373.9h10.4M486.1 368.7v10.4M480.9 437.9h10.4M486.1 432.7v10.4M480.9 549.9h10.4M486.1 544.7v10.4M480.9 565.9h10.4M486.1 560.7v10.4M480.9 581.9h10.4M486.1 576.7v10.4M480.9 597.9h10.4M486.1 592.7v10.4M507.2 341.9h10.4M512.4 336.7v10.4M507.2 565.9h10.4M512.4 560.7v10.4M528.2 341.9h10.4M533.4 336.7v10.4M580.2 341.9h10.4M585.4 336.7v10.4M600.8 341.9h10.4M606 336.7v10.4" stroke="#3A3A3A" stroke-width="1.0" fill="none"/>
<circle cx="354.2" cy="504.6" r="3.4" fill="#C22E1C" fill-opacity="0.9"/>
<circle cx="378.2" cy="355.3" r="1.8" fill="#006BB8" fill-opacity="0.72"/>
<circle cx="378.2" cy="360.6" r="3.6" fill="#C22E1C" fill-opacity="0.9"/>
<circle cx="378.2" cy="376.6" r="1.8" fill="#C22E1C" fill-opacity="0.72"/>
<circle cx="378.2" cy="387.3" r="1.8" fill="#006BB8" fill-opacity="0.72"/>
<circle cx="378.2" cy="392.6" r="1.8" fill="#C22E1C" fill-opacity="0.72"/>
<circle cx="378.2" cy="408.6" r="1.8" fill="#C22E1C" fill-opacity="0.72"/>
<circle cx="378.2" cy="472.6" r="1.8" fill="#C22E1C" fill-opacity="0.72"/>
<circle cx="378.2" cy="504.6" r="1.8" fill="#C22E1C" fill-opacity="0.72"/>
<circle cx="398.8" cy="355.3" r="1.8" fill="#006BB8" fill-opacity="0.72"/>
<circle cx="398.8" cy="424.6" r="3.6" fill="#C22E1C" fill-opacity="0.9"/>
<circle cx="398.8" cy="632.6" r="3.6" fill="#C22E1C" fill-opacity="0.9"/>
<circle cx="419.5" cy="387.3" r="1.8" fill="#006BB8" fill-opacity="0.72"/>
<circle cx="419.5" cy="392.6" r="1.8" fill="#C22E1C" fill-opacity="0.72"/>
<circle cx="419.5" cy="488.6" r="1.8" fill="#C22E1C" fill-opacity="0.72"/>
<circle cx="439.8" cy="355.3" r="1.8" fill="#006BB8" fill-opacity="0.72"/>
<circle cx="439.8" cy="392.6" r="1.8" fill="#C22E1C" fill-opacity="0.72"/>
<circle cx="439.8" cy="488.6" r="1.8" fill="#C22E1C" fill-opacity="0.72"/>
<circle cx="439.8" cy="531.3" r="1.8" fill="#006BB8" fill-opacity="0.72"/>
<circle cx="439.8" cy="536.6" r="1.8" fill="#C22E1C" fill-opacity="0.72"/>
<circle cx="466.1" cy="355.3" r="1.8" fill="#006BB8" fill-opacity="0.72"/>
<circle cx="466.1" cy="424.6" r="1.8" fill="#C22E1C" fill-opacity="0.72"/>
<circle cx="466.1" cy="483.3" r="1.8" fill="#006BB8" fill-opacity="0.72"/>
<circle cx="466.1" cy="536.6" r="1.8" fill="#C22E1C" fill-opacity="0.72"/>
<circle cx="466.1" cy="531.3" r="4.3" fill="#006BB8" fill-opacity="0.9"/>
<circle cx="486.1" cy="403.3" r="1.8" fill="#006BB8" fill-opacity="0.72"/>
<circle cx="486.1" cy="453.9" r="1.8" fill="#006BB8" fill-opacity="0.72"/>
<circle cx="486.1" cy="536.6" r="1.8" fill="#C22E1C" fill-opacity="0.72"/>
<circle cx="486.1" cy="531.3" r="4.3" fill="#006BB8" fill-opacity="0.9"/>
<circle cx="486.1" cy="632.6" r="4.3" fill="#C22E1C" fill-opacity="0.9"/>
<circle cx="513.2" cy="360.6" r="2" fill="#C22E1C" fill-opacity="0.72"/>
<circle cx="512.4" cy="453.9" r="1.8" fill="#006BB8" fill-opacity="0.72"/>
<circle cx="512.4" cy="472.6" r="1.8" fill="#C22E1C" fill-opacity="0.72"/>
<circle cx="512.4" cy="483.3" r="1.8" fill="#006BB8" fill-opacity="0.72"/>
<circle cx="512.4" cy="499.3" r="1.8" fill="#006BB8" fill-opacity="0.72"/>
<circle cx="512.4" cy="504.6" r="1.8" fill="#C22E1C" fill-opacity="0.72"/>
<circle cx="512.4" cy="517.9" r="1.8" fill="#006BB8" fill-opacity="0.72"/>
<circle cx="512.4" cy="536.6" r="1.8" fill="#C22E1C" fill-opacity="0.72"/>
<circle cx="512.4" cy="547.3" r="3.8" fill="#006BB8" fill-opacity="0.9"/>
<circle cx="512.4" cy="600.6" r="1.8" fill="#C22E1C" fill-opacity="0.72"/>
<circle cx="512.4" cy="616.6" r="1.8" fill="#C22E1C" fill-opacity="0.72"/>
<circle cx="512.4" cy="632.6" r="1.8" fill="#C22E1C" fill-opacity="0.72"/>
<circle cx="533.4" cy="355.3" r="1.8" fill="#006BB8" fill-opacity="0.72"/>
<circle cx="533.4" cy="360.6" r="4.2" fill="#C22E1C" fill-opacity="0.9"/>
<circle cx="533.4" cy="371.3" r="1.8" fill="#006BB8" fill-opacity="0.72"/>
<circle cx="533.4" cy="376.6" r="4.5" fill="#C22E1C" fill-opacity="0.9"/>
<circle cx="533.4" cy="419.3" r="1.8" fill="#006BB8" fill-opacity="0.72"/>
<circle cx="533.4" cy="424.6" r="3.6" fill="#C22E1C" fill-opacity="0.9"/>
<circle cx="533.4" cy="435.3" r="1.8" fill="#006BB8" fill-opacity="0.72"/>
<circle cx="533.4" cy="440.6" r="1.8" fill="#C22E1C" fill-opacity="0.72"/>
<circle cx="533.4" cy="467.3" r="1.8" fill="#006BB8" fill-opacity="0.72"/>
<circle cx="533.4" cy="472.6" r="1.8" fill="#C22E1C" fill-opacity="0.72"/>
<circle cx="533.4" cy="483.3" r="5" fill="#006BB8" fill-opacity="0.9"/>
<circle cx="533.4" cy="499.3" r="1.8" fill="#006BB8" fill-opacity="0.72"/>
<circle cx="533.4" cy="504.6" r="3.4" fill="#C22E1C" fill-opacity="0.9"/>
<circle cx="533.4" cy="531.3" r="5.4" fill="#006BB8" fill-opacity="0.9"/>
<circle cx="533.4" cy="536.6" r="6.4" fill="#C22E1C" fill-opacity="0.9"/>
<clipPath id="k18"><circle cx="533.4" cy="536.6" r="6.4"/></clipPath>
<circle cx="533.4" cy="531.3" r="5.4" fill="#006BB8" fill-opacity="0.25" clip-path="url(#k18)"/>
<circle cx="533.4" cy="547.3" r="1.8" fill="#006BB8" fill-opacity="0.72"/>
<circle cx="533.4" cy="568.6" r="1.8" fill="#C22E1C" fill-opacity="0.72"/>
<circle cx="533.4" cy="600.6" r="3.6" fill="#C22E1C" fill-opacity="0.9"/>
<circle cx="533.4" cy="616.6" r="1.8" fill="#C22E1C" fill-opacity="0.72"/>
<circle cx="533.4" cy="632.6" r="1.8" fill="#C22E1C" fill-opacity="0.72"/>
<circle cx="533.4" cy="627.3" r="4.5" fill="#006BB8" fill-opacity="0.9"/>
<circle cx="533.4" cy="643.3" r="1.8" fill="#006BB8" fill-opacity="0.72"/>
<circle cx="533.4" cy="648.6" r="1.8" fill="#C22E1C" fill-opacity="0.72"/>
<circle cx="585.4" cy="371.3" r="1.8" fill="#006BB8" fill-opacity="0.72"/>
<circle cx="585.4" cy="376.6" r="1.8" fill="#C22E1C" fill-opacity="0.72"/>
<circle cx="585.4" cy="440.6" r="3.7" fill="#C22E1C" fill-opacity="0.9"/>
<circle cx="585.4" cy="472.6" r="1.8" fill="#C22E1C" fill-opacity="0.72"/>
<circle cx="585.4" cy="488.6" r="1.8" fill="#C22E1C" fill-opacity="0.72"/>
<circle cx="585.4" cy="483.3" r="3.6" fill="#006BB8" fill-opacity="0.9"/>
<circle cx="585.4" cy="531.3" r="1.8" fill="#006BB8" fill-opacity="0.72"/>
<circle cx="585.4" cy="595.3" r="1.8" fill="#006BB8" fill-opacity="0.72"/>
<circle cx="585.4" cy="611.3" r="1.8" fill="#006BB8" fill-opacity="0.72"/>
<circle cx="585.4" cy="627.3" r="1.8" fill="#006BB8" fill-opacity="0.72"/>
<circle cx="585.4" cy="643.3" r="1.8" fill="#006BB8" fill-opacity="0.72"/>
<circle cx="606" cy="371.3" r="1.8" fill="#006BB8" fill-opacity="0.72"/>
<circle cx="606" cy="387.3" r="3.6" fill="#006BB8" fill-opacity="0.9"/>
<circle cx="606" cy="408.6" r="1.8" fill="#C22E1C" fill-opacity="0.72"/>
<circle cx="606" cy="424.6" r="1.8" fill="#C22E1C" fill-opacity="0.72"/>
<circle cx="606" cy="435.3" r="1.8" fill="#006BB8" fill-opacity="0.72"/>
<circle cx="606" cy="440.6" r="1.8" fill="#C22E1C" fill-opacity="0.72"/>
<circle cx="606" cy="472.6" r="4.5" fill="#C22E1C" fill-opacity="0.9"/>
<circle cx="606" cy="483.3" r="3.6" fill="#006BB8" fill-opacity="0.9"/>
<circle cx="606" cy="488.6" r="6" fill="#C22E1C" fill-opacity="0.9"/>
<clipPath id="k19"><circle cx="606" cy="488.6" r="6"/></clipPath>
<circle cx="606" cy="483.3" r="3.6" fill="#006BB8" fill-opacity="0.25" clip-path="url(#k19)"/>
<circle cx="606" cy="499.3" r="1.8" fill="#006BB8" fill-opacity="0.72"/>
<circle cx="606" cy="504.6" r="1.8" fill="#C22E1C" fill-opacity="0.72"/>
<circle cx="606" cy="531.3" r="3.6" fill="#006BB8" fill-opacity="0.9"/>
<circle cx="606" cy="536.6" r="3.6" fill="#C22E1C" fill-opacity="0.9"/>
<clipPath id="k20"><circle cx="606" cy="536.6" r="3.6"/></clipPath>
<circle cx="606" cy="531.3" r="3.6" fill="#006BB8" fill-opacity="0.25" clip-path="url(#k20)"/>
<circle cx="606" cy="547.3" r="1.8" fill="#006BB8" fill-opacity="0.72"/>
<circle cx="606" cy="552.6" r="1.8" fill="#C22E1C" fill-opacity="0.72"/>
<circle cx="606" cy="563.3" r="1.8" fill="#006BB8" fill-opacity="0.72"/>
<circle cx="606" cy="568.6" r="3.4" fill="#C22E1C" fill-opacity="0.9"/>
<circle cx="606" cy="584.6" r="1.8" fill="#C22E1C" fill-opacity="0.72"/>
<circle cx="606" cy="579.3" r="4.3" fill="#006BB8" fill-opacity="0.9"/>
<circle cx="606" cy="616.6" r="5.4" fill="#C22E1C" fill-opacity="0.9"/>
<circle cx="606" cy="632.6" r="3.4" fill="#C22E1C" fill-opacity="0.9"/>
<circle cx="606" cy="643.3" r="1.8" fill="#006BB8" fill-opacity="0.72"/>
<circle cx="606" cy="648.6" r="3.5" fill="#C22E1C" fill-opacity="0.9"/>
<circle cx="626.6" cy="355.3" r="1.8" fill="#006BB8" fill-opacity="0.72"/>
<circle cx="626.6" cy="408.6" r="1.8" fill="#C22E1C" fill-opacity="0.72"/>
<circle cx="626.6" cy="419.3" r="1.8" fill="#006BB8" fill-opacity="0.72"/>
<circle cx="626.6" cy="440.6" r="1.8" fill="#C22E1C" fill-opacity="0.72"/>
<circle cx="626.6" cy="453.9" r="1.8" fill="#006BB8" fill-opacity="0.72"/>
<circle cx="626.6" cy="488.6" r="1.8" fill="#C22E1C" fill-opacity="0.72"/>
<circle cx="626.6" cy="483.3" r="3.6" fill="#006BB8" fill-opacity="0.9"/>
<circle cx="626.6" cy="504.6" r="1.8" fill="#C22E1C" fill-opacity="0.72"/>
<circle cx="626.6" cy="536.6" r="3.6" fill="#C22E1C" fill-opacity="0.9"/>
<circle cx="626.6" cy="531.3" r="4.9" fill="#006BB8" fill-opacity="0.9"/>
<clipPath id="k21"><circle cx="626.6" cy="531.3" r="4.9"/></clipPath>
<circle cx="626.6" cy="536.6" r="3.6" fill="#C22E1C" fill-opacity="0.1" clip-path="url(#k21)"/>
<circle cx="626.6" cy="547.3" r="1.8" fill="#006BB8" fill-opacity="0.72"/>
<circle cx="626.6" cy="632.6" r="4.3" fill="#C22E1C" fill-opacity="0.9"/>
<circle cx="626.6" cy="648.6" r="1.8" fill="#C22E1C" fill-opacity="0.72"/>
<rect x="352.3" y="333.1" width="3.6" height="321.9" fill="#00F" fill-opacity="0.1"/>
<rect x="376.05" y="333.1" width="4.5" height="321.9" fill="#00F" fill-opacity="0.1"/>
<rect x="397.2" y="333.1" width="3.6" height="321.9" fill="#00F" fill-opacity="0.1"/>
<rect x="417.65" y="333.1" width="4.3" height="321.9" fill="#00F" fill-opacity="0.1"/>
<rect x="437.45" y="333.1" width="4.7" height="321.9" fill="#00F" fill-opacity="0.1"/>
<rect x="464.25" y="333.1" width="3.9" height="321.9" fill="#00F" fill-opacity="0.1"/>
<rect x="483.9" y="333.1" width="4.2" height="321.9" fill="#00F" fill-opacity="0.1"/>
<rect x="510" y="333.1" width="5.2" height="321.9" fill="#00F" fill-opacity="0.1"/>
<rect x="531.4" y="333.1" width="5.2" height="321.9" fill="#00F" fill-opacity="0.1"/>
<rect x="583.1" y="333.1" width="5.8" height="321.9" fill="#00F" fill-opacity="0.1"/>
<rect x="604.15" y="333.1" width="3.7" height="321.9" fill="#00F" fill-opacity="0.1"/>
<rect x="624" y="333.1" width="5.2" height="321.9" fill="#00F" fill-opacity="0.1"/>
<line x1="87.4" y1="341.9" x2="92.6" y2="341.9" stroke="#333" stroke-width="1.4"/>
<text x="83.2" y="347.3" class="ax" text-anchor="end">HH_678</text>
<line x1="87.4" y1="357.9" x2="92.6" y2="357.9" stroke="#333" stroke-width="1.4"/>
<text x="83.2" y="363.3" class="ax" text-anchor="end">HH_539</text>
<line x1="87.4" y1="373.9" x2="92.6" y2="373.9" stroke="#333" stroke-width="1.4"/>
<text x="83.2" y="379.3" class="ax" text-anchor="end">HH_529</text>
<line x1="87.4" y1="389.9" x2="92.6" y2="389.9" stroke="#333" stroke-width="1.4"/>
<text x="83.2" y="395.3" class="ax" text-anchor="end">HH_502</text>
<line x1="87.4" y1="405.9" x2="92.6" y2="405.9" stroke="#333" stroke-width="1.4"/>
<text x="83.2" y="411.3" class="ax" text-anchor="end">HH_495</text>
<line x1="87.4" y1="421.9" x2="92.6" y2="421.9" stroke="#333" stroke-width="1.4"/>
<text x="83.2" y="427.3" class="ax" text-anchor="end">HH_491</text>
<line x1="87.4" y1="437.9" x2="92.6" y2="437.9" stroke="#333" stroke-width="1.4"/>
<text x="83.2" y="443.3" class="ax" text-anchor="end">HH_486</text>
<line x1="87.4" y1="453.9" x2="92.6" y2="453.9" stroke="#333" stroke-width="1.4"/>
<text x="83.2" y="459.3" class="ax" text-anchor="end">HH_472</text>
<line x1="87.4" y1="469.9" x2="92.6" y2="469.9" stroke="#333" stroke-width="1.4"/>
<text x="83.2" y="475.3" class="ax" text-anchor="end">HH_471</text>
<line x1="87.4" y1="485.9" x2="92.6" y2="485.9" stroke="#333" stroke-width="1.4"/>
<text x="83.2" y="491.3" class="ax" text-anchor="end">HH_437</text>
<line x1="87.4" y1="501.9" x2="92.6" y2="501.9" stroke="#333" stroke-width="1.4"/>
<text x="83.2" y="507.3" class="ax" text-anchor="end">HH_433</text>
<line x1="87.4" y1="517.9" x2="92.6" y2="517.9" stroke="#333" stroke-width="1.4"/>
<text x="83.2" y="523.3" class="ax" text-anchor="end">HH_432</text>
<line x1="87.4" y1="533.9" x2="92.6" y2="533.9" stroke="#333" stroke-width="1.4"/>
<text x="83.2" y="539.3" class="ax" text-anchor="end">HH_421</text>
<line x1="87.4" y1="549.9" x2="92.6" y2="549.9" stroke="#333" stroke-width="1.4"/>
<text x="83.2" y="555.3" class="ax" text-anchor="end">HH_419</text>
<line x1="87.4" y1="565.9" x2="92.6" y2="565.9" stroke="#333" stroke-width="1.4"/>
<text x="83.2" y="571.3" class="ax" text-anchor="end">HH_416</text>
<line x1="87.4" y1="581.9" x2="92.6" y2="581.9" stroke="#333" stroke-width="1.4"/>
<text x="83.2" y="587.3" class="ax" text-anchor="end">HH_412</text>
<line x1="87.4" y1="597.9" x2="92.6" y2="597.9" stroke="#333" stroke-width="1.4"/>
<text x="83.2" y="603.3" class="ax" text-anchor="end">HH_406</text>
<line x1="87.4" y1="613.9" x2="92.6" y2="613.9" stroke="#333" stroke-width="1.4"/>
<text x="83.2" y="619.3" class="ax" text-anchor="end">HH_402</text>
<line x1="87.4" y1="629.9" x2="92.6" y2="629.9" stroke="#333" stroke-width="1.4"/>
<text x="83.2" y="635.3" class="ax" text-anchor="end">HH_342</text>
<line x1="87.4" y1="645.9" x2="92.6" y2="645.9" stroke="#333" stroke-width="1.4"/>
<text x="83.2" y="651.3" class="ax" text-anchor="end">HH_188</text>
<rect x="92.6" y="333.1" width="562.3" height="321.9" fill="none" stroke="#333" stroke-width="1.4"/>
<rect x="655.4" y="333.1" width="29.2" height="321.9" fill="#fff" stroke="#333" stroke-width="1.4"/>
<text x="0" y="0" class="st" text-anchor="middle" transform="translate(664.2 161.3) rotate(90)">Community 1</text>
<text x="0" y="0" class="st" text-anchor="middle" transform="translate(664.2 494.05) rotate(90)">Community 3</text>
<rect x="112.6" y="350.6" width="152.6" height="205.7" fill="#fff"/>
<circle cx="128.2" cy="367.2" r="3.1" fill="#C22E1C" fill-opacity="0.55" stroke="#C22E1C" stroke-opacity="0.5" stroke-width="1.0"/>
<circle cx="128.2" cy="386.5" r="3.1" fill="#006BB8" fill-opacity="0.6" stroke="#006BB8" stroke-opacity="0.55" stroke-width="1.0"/>
<path d="M123 405.6h10.4M128.2 400.4v10.4" stroke="#444" stroke-width="0.95" fill="none"/>
<rect x="122.4" y="437.9" width="11.8" height="11.8" fill="#E6E6FA" stroke="#999" stroke-width="0.9"/>
<text x="146.8" y="372.6" class="lg" font-style="italic">S. pyogenes</text>
<text x="146.8" y="392.0" class="lg">SDSE</text>
<text x="146.8" y="411.1" class="lg">Not sampled</text>
<text x="146.8" y="449.0" class="lg">Community visit</text>
<text x="119.3" y="485.6" class="tt">No. of isolates</text>
<circle cx="128.2" cy="505.6" r="3.0" fill="#474747" fill-opacity="0.78" stroke="#474747" stroke-opacity="0.55" stroke-width="0.9"/>
<circle cx="128.2" cy="522.5" r="5.1" fill="#474747" fill-opacity="0.78" stroke="#474747" stroke-opacity="0.55" stroke-width="0.9"/>
<circle cx="128.2" cy="539.3" r="6.4" fill="#474747" fill-opacity="0.78" stroke="#474747" stroke-opacity="0.55" stroke-width="0.9"/>
<text x="146.8" y="511.0" class="lg">2</text>
<text x="146.8" y="527.9" class="lg">5</text>
<text x="146.8" y="544.7" class="lg">8</text>
<line x1="92.6" y1="655" x2="92.6" y2="660" stroke="#333" stroke-width="1.4"/>
<text x="92.6" y="675.1" class="ax" text-anchor="middle">Jul-2003</text>
<line x1="228.85" y1="655" x2="228.85" y2="660" stroke="#333" stroke-width="1.4"/>
<text x="228.85" y="675.1" class="ax" text-anchor="middle">Jan-2004</text>
<line x1="363.62" y1="655" x2="363.62" y2="660" stroke="#333" stroke-width="1.4"/>
<text x="363.62" y="675.1" class="ax" text-anchor="middle">Jul-2004</text>
<line x1="499.88" y1="655" x2="499.88" y2="660" stroke="#333" stroke-width="1.4"/>
<text x="499.88" y="675.1" class="ax" text-anchor="middle">Jan-2005</text>
<line x1="633.91" y1="655" x2="633.91" y2="660" stroke="#333" stroke-width="1.4"/>
<text x="633.91" y="675.1" class="ax" text-anchor="middle">Jul-2005</text>
<text x="373.7" y="697.2" class="tt" text-anchor="middle">Date of collection</text>
<text x="0" y="0" class="tt" text-anchor="middle" transform="translate(17.1 327.5) rotate(-90)">Household</text>
</svg>
</body></html>
